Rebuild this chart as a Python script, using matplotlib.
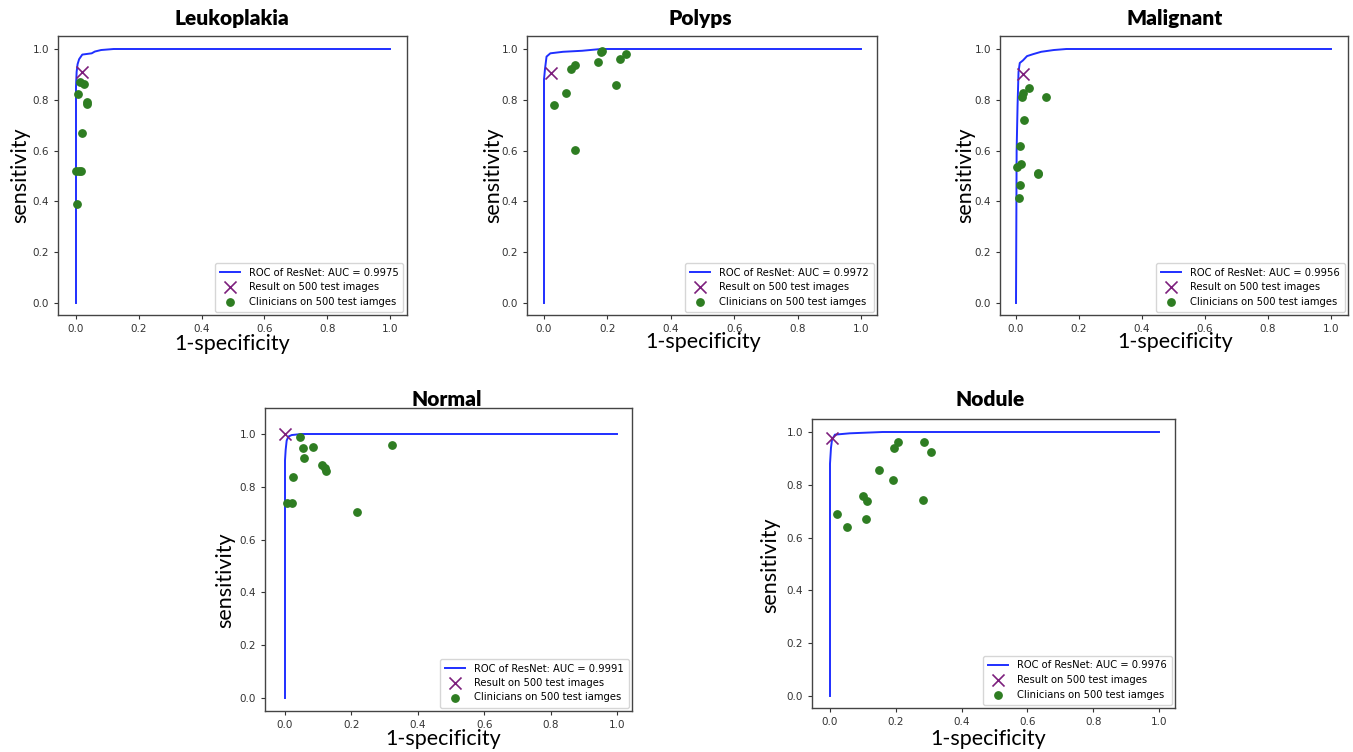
import matplotlib
matplotlib.use("Agg")
import matplotlib.pyplot as plt
from matplotlib.ticker import FormatStrFormatter

# ---------------- data ----------------
titles = ["Leukoplakia", "Polyps", "Malignant", "Normal", "Nodule"]
auc_values = [0.9975, 0.9972, 0.9956, 0.9991, 0.9976]

leuko_fpr = [0, 0, 0.002, 0.005, 0.01, 0.02, 0.05, 0.06, 0.08, 0.12, 1.0]
leuko_tpr = [0, 0.85, 0.91, 0.94, 0.96, 0.978, 0.983, 0.99, 0.996, 1.0, 1.0]
leuko_model = (0.02, 0.91)
leuko_clin_x = [0.013, 0.025, 0.005, 0.034, 0.035, 0.019, 0.0, 0.011, 0.015, 0.002]
leuko_clin_y = [0.869, 0.861, 0.822, 0.793, 0.783, 0.671, 0.521, 0.52, 0.52, 0.391]

polyps_fpr = [0, 0, 0.003, 0.008, 0.02, 0.06, 0.12, 0.18, 1.0]
polyps_tpr = [0, 0.88, 0.92, 0.97, 0.983, 0.989, 0.993, 1.0, 1.0]
polyps_model = (0.022, 0.907)
polyps_clin_x = [0.033, 0.070, 0.084, 0.099, 0.098, 0.170, 0.179, 0.183, 0.226, 0.239, 0.258]
polyps_clin_y = [0.781, 0.828, 0.92, 0.938, 0.602, 0.95, 0.987, 0.992, 0.859, 0.959, 0.979]

malig_fpr = [0, 0.002, 0.005, 0.008, 0.012, 0.022, 0.035, 0.055, 0.08, 0.12, 0.16, 1.0]
malig_tpr = [0, 0.6, 0.78, 0.91, 0.945, 0.955, 0.972, 0.98, 0.989, 0.996, 1.0, 1.0]
malig_model = (0.023, 0.9)
malig_clin_x = [0.042, 0.023, 0.018, 0.096, 0.025, 0.014, 0.017, 0.004, 0.069, 0.071, 0.014, 0.011]
malig_clin_y = [0.848, 0.826, 0.812, 0.812, 0.72, 0.618, 0.547, 0.534, 0.508, 0.513, 0.465, 0.415]

normal_fpr = [0, 0, 0.002, 0.005, 0.01, 0.02, 0.05, 1.0]
normal_tpr = [0, 0.9, 0.94, 0.975, 0.99, 0.996, 1.0, 1.0]
normal_model = (0.0, 1.0)
normal_clin_x = [0.044, 0.053, 0.083, 0.058, 0.112, 0.121, 0.122, 0.023, 0.007, 0.020, 0.218, 0.323]
normal_clin_y = [0.989, 0.947, 0.951, 0.910, 0.881, 0.871, 0.861, 0.839, 0.739, 0.739, 0.704, 0.960]

nodule_fpr = [0, 0, 0.003, 0.006, 0.015, 0.06, 0.16, 1.0]
nodule_tpr = [0, 0.88, 0.94, 0.97, 0.99, 0.995, 1.0, 1.0]
nodule_model = (0.005, 0.977)
nodule_clin_x = [0.022, 0.051, 0.101, 0.113, 0.109, 0.149, 0.193, 0.195, 0.207, 0.283, 0.286, 0.307]
nodule_clin_y = [0.69, 0.64, 0.756, 0.74, 0.67, 0.856, 0.82, 0.940, 0.962, 0.741, 0.962, 0.925]

tick_values = [0.0, 0.2, 0.4, 0.6, 0.8, 1.0]

series = [
    (leuko_fpr, leuko_tpr, leuko_model, leuko_clin_x, leuko_clin_y),
    (polyps_fpr, polyps_tpr, polyps_model, polyps_clin_x, polyps_clin_y),
    (malig_fpr, malig_tpr, malig_model, malig_clin_x, malig_clin_y),
    (normal_fpr, normal_tpr, normal_model, normal_clin_x, normal_clin_y),
    (nodule_fpr, nodule_tpr, nodule_model, nodule_clin_x, nodule_clin_y),
]

# ---------------- layout (pixels) ----------------
W, H = 1353, 752
# frame left, right, top, bottom; pixel of x=0, x=1, y=1, y=0
frames = [
    (58, 407, 36, 315, 76, 390, 49, 303),
    (527, 877, 36, 315, 544, 861, 49, 303),
    (1000, 1348, 36, 315, 1016, 1331, 49, 303),
    (265, 632, 408, 711, 285, 617, 434, 698),
    (812, 1175, 419, 708, 830, 1159, 432, 696),
]
title_pos = [(232, 19), (700, 19), (1175, 19), (447, 399), (990, 399)]
xlabel_pos = [(232, 344), (703, 342), (1175, 342), (443, 739), (988, 739)]
ylabel_pos = [(20, 175), (493, 175), (965, 175), (225, 580), (770, 565)]

fig = plt.figure(figsize=(W / 100, H / 100), dpi=100)
fig.patch.set_facecolor("white")

title_font = dict(family=["Lato", "DejaVu Sans"], weight="heavy", size=15)
label_font = dict(family=["Lato", "DejaVu Sans"], size=15.5)

for i, (fr, s) in enumerate(zip(frames, series)):
    l, r, t, b, x0, x1, y1, y0 = fr
    ax = fig.add_axes([l / W, 1 - b / H, (r - l) / W, (b - t) / H])
    fpr, tpr, model, cx, cy = s
    ax.plot(fpr, tpr, color="#1f2fff", lw=1.4,
            label=f"ROC of ResNet: AUC = {auc_values[i]:.4f}")
    ax.scatter([model[0]], [model[1]], marker="x", s=75, color="#7d1f7d",
               linewidths=1.2, label="Result on 500 test images", zorder=3)
    ax.scatter(cx, cy, s=28, color="#2e7d22", label="Clinicians on 500 test iamges",
               zorder=2)
    sx = x1 - x0
    sy = y0 - y1
    ax.set_xlim((l - x0) / sx, (r - x0) / sx)
    ax.set_ylim((y0 - b) / sy, (y0 - t) / sy)
    ax.set_xticks(tick_values)
    ax.set_yticks(tick_values)
    ax.xaxis.set_major_formatter(FormatStrFormatter("%.1f"))
    ax.yaxis.set_major_formatter(FormatStrFormatter("%.1f"))
    ax.tick_params(labelsize=7.5, colors="#333333", length=3)
    for sp in ax.spines.values():
        sp.set_color("#444444")
        sp.set_linewidth(1.0)
    leg = ax.legend(loc="lower right", fontsize=7.2, frameon=True,
                    borderpad=0.5, handletextpad=0.9, labelspacing=0.45,
                    borderaxespad=0.35)
    leg.get_frame().set_edgecolor("#cccccc")

    tx, ty = title_pos[i]
    fig.text(tx / W, 1 - ty / H, titles[i], ha="center", va="center", **title_font)
    lx, ly = xlabel_pos[i]
    fig.text(lx / W, 1 - ly / H, "1-specificity", ha="center", va="center", **label_font)
    yx, yy = ylabel_pos[i]
    fig.text(yx / W, 1 - yy / H, "sensitivity", ha="center", va="center",
             rotation=90, **label_font)

fig.savefig("out.png", dpi=100)
